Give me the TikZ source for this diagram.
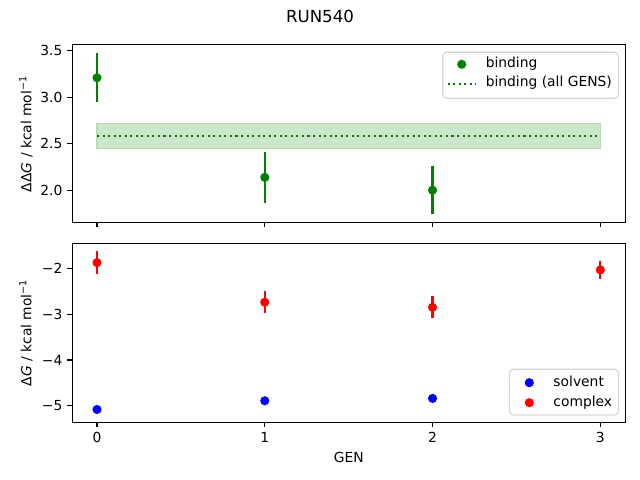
\documentclass[tikz,border=0pt]{standalone}
\usepackage{fontspec}
\setmainfont{DejaVu Sans}
\usetikzlibrary{positioning}

\definecolor{mplgreen}{HTML}{008000}
\definecolor{mplred}{HTML}{FF0000}
\definecolor{mplblue}{HTML}{0000FF}
\definecolor{bandfill}{HTML}{CCE6CC}
\definecolor{bandedge}{HTML}{B8DCB8}
\definecolor{legendedge}{HTML}{CCCCCC}

\tikzset{
  frame/.style={line width=0.8pt},
  axtick/.style={line width=0.8pt},
  errbar/.style={line width=1.5pt},
  ticklabel/.style={inner sep=0pt},
  legendbox/.style={draw=legendedge, fill=white, fill opacity=0.8, draw opacity=0.8, rounded corners=2.8pt, line width=0.8pt},
  legendtext/.style={anchor=base west, inner sep=0pt},
}

\begin{document}
\begin{tikzpicture}[x=0.01in, y=0.01in]
\useasboundingbox (0,0) rectangle (640,480);

\node (title) at (320,463.3) {\fontsize{12}{14}\selectfont RUN540};

% top axes: binding
\begin{scope}[shift={(97,103.96)}, x=1.6767in, y=0.9287in]
  \filldraw[fill=bandfill, draw=bandedge, line width=0.8pt] (0,2.446) rectangle (3,2.716);
  \draw[mplgreen, line width=1.5pt, dash pattern=on 1.5pt off 2.5pt] (0,2.585) -- (3,2.585);
  \foreach \x/\y/\e in {0/3.21/0.265, 1/2.138/0.272, 2/2.0/0.26} {
    \draw[errbar, mplgreen] (\x,\y-\e) -- (\x,\y+\e);
    \fill[mplgreen] (\x,\y) circle[radius=3.3pt];
  }
  \foreach \y in {2.0,2.5,3.0,3.5} {
    \draw[axtick] (-0.1473,\y) -- ++(-3.5pt,0pt);
    \node[ticklabel, anchor=east] at (-0.1473,\y) [xshift=-7pt] {\y};
  }
  \foreach \x in {0,1,2,3}
    \draw[axtick] (\x,1.651) -- ++(0pt,-3.5pt);
  \draw[frame] (-0.1473,1.651) rectangle (3.151,3.565);
\end{scope}

% bottom axes: solvent and complex
\begin{scope}[shift={(97,303.3)}, x=1.6767in, y=0.458in]
  \foreach \x/\y/\e in {0/-5.08/0.03, 1/-4.89/0.03, 2/-4.838/0.07} {
    \draw[errbar, mplblue] (\x,\y-\e) -- (\x,\y+\e);
    \fill[mplblue] (\x,\y) circle[radius=3.3pt];
  }
  \foreach \x/\y/\e in {0/-1.875/0.255, 1/-2.74/0.24, 2/-2.85/0.24, 3/-2.034/0.19} {
    \draw[errbar, mplred] (\x,\y-\e) -- (\x,\y+\e);
    \fill[mplred] (\x,\y) circle[radius=3.3pt];
  }
  \foreach \y/\t in {-2/−2, -3/−3, -4/−4, -5/−5} {
    \draw[axtick] (-0.1473,\y) -- ++(-3.5pt,0pt);
    \node[ticklabel, anchor=east] at (-0.1473,\y) [xshift=-7pt] {\t};
  }
  \foreach \x in {0,1,2,3} {
    \draw[axtick] (\x,-5.362) -- ++(0pt,-3.5pt);
    \node[ticklabel, anchor=north] at (\x,-5.362) [yshift=-7pt] {\x};
  }
  \draw[frame] (-0.1473,-5.362) rectangle (3.151,-1.454);
\end{scope}

% axis labels
\node (xlab) [anchor=base] at (348.8,17.7) {GEN};
\node (ylabtop) [rotate=90, anchor=base] at (31.5,346.1) {ΔΔ\textit{G} / kcal mol\textsuperscript{−1}};
\node (ylabbot) [rotate=90, anchor=base] at (31.5,147.2) {Δ\textit{G} / kcal mol\textsuperscript{−1}};

% legend top
\draw[legendbox] (442.7,381.7) rectangle (618.3,427.7);
\fill[mplgreen] (461.7,415.7) circle[radius=3.3pt];
\node (legbind) [legendtext] at (485.5,412.7) {binding};
\draw[mplgreen, line width=1.5pt, dash pattern=on 1.5pt off 2.5pt] (447.7,396) -- (475.5,396);
\node (legall) [legendtext] at (485.5,393.3) {binding (all GENS)};

% legend bottom
\draw[legendbox] (509.3,65) rectangle (618.6,110.7);
\fill[mplblue] (529.3,97.3) circle[radius=3.3pt];
\node (legsolv) [legendtext] at (553.2,93.3) {solvent};
\fill[mplred] (529.3,77.3) circle[radius=3.3pt];
\node (legcplx) [legendtext] at (553.2,73.3) {complex};
\end{tikzpicture}
\end{document}
